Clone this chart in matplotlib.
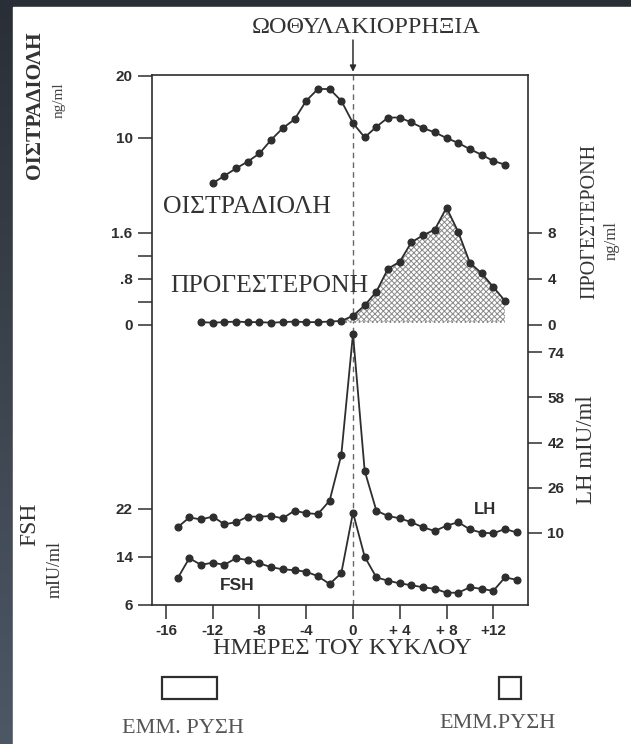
import matplotlib.pyplot as plt
import matplotlib.patches as mpatches
import matplotlib.transforms as mtransforms
from matplotlib.colors import LinearSegmentedColormap
import numpy as np

plt.rcParams['hatch.linewidth'] = 0.7
SANS = 'Liberation Sans'
SERIF = 'Liberation Serif'
INK = '#2e2e2e'
TICK_FS = 11

# --- data (day of cycle, 0 = ovulation) ---
days_e2 = list(range(-12, 14))
estradiol = [2.7, 3.9, 5.1, 6.2, 7.5, 9.7, 11.6, 13.0, 16.0, 17.9, 17.9, 16.0, 12.4,
             10.1, 11.8, 13.3, 13.3, 12.5, 11.6, 10.9, 10.0, 9.2, 8.2, 7.3, 6.3, 5.7]

days_p4 = list(range(-13, 14))
progesterone = [0.25, 0.2, 0.25, 0.3, 0.25, 0.25, 0.2, 0.25, 0.3, 0.25, 0.25, 0.3, 0.35,
                0.8, 1.7, 2.9, 4.9, 5.5, 7.2, 7.8, 8.3, 10.2, 8.1, 5.4, 4.5, 3.3, 2.1]

days_gn = list(range(-15, 15))
lh = [12.0, 15.5, 14.8, 15.8, 13.1, 13.8, 15.8, 15.8, 16.0, 15.2, 17.9, 17.0, 16.7, 21.4,
      37.6, 80.4, 32.0, 17.9, 16.0, 15.2, 13.8, 12.0, 10.7, 12.6, 13.8, 11.3, 10.1, 9.9, 11.4, 10.2]
fsh = [10.45, 13.8, 12.7, 13.05, 12.7, 13.8, 13.5, 12.95, 12.3, 11.95, 11.8, 11.55, 10.8, 9.5,
       11.3, 21.4, 14.05, 10.6, 10.05, 9.6, 9.3, 8.95, 8.7, 8.05, 8.05, 8.95, 8.7, 8.35, 10.6, 10.2]

x_ticks = [-16, -12, -8, -4, 0, 4, 8, 12]
x_ticklabels = ['-16', '-12', '-8', '-4', '0', '+ 4', '+ 8', '+12']
menses = [(-16.3, -11.6), (12.5, 14.4)]

fig = plt.figure(figsize=(6.31, 7.44), dpi=100)

# scanned page on dark background
bg = fig.add_axes([0, 0, 1, 1], zorder=-10)
grad = np.linspace(0, 1, 256).reshape(-1, 1)
bg.imshow(grad, aspect='auto', extent=[0, 1, 0, 1],
          cmap=LinearSegmentedColormap.from_list('bg', ['#2a2f37', '#4d5865']))
bg.add_patch(mpatches.Rectangle((13 / 631, 0), 1, 737 / 744, color='white'))
bg.set_xlim(0, 1)
bg.set_ylim(0, 1)
bg.axis('off')

rect = [152 / 631, 139 / 744, 376 / 631, 530 / 744]
xlim = (-17.19, 14.97)

ax = fig.add_axes(rect)            # frame + FSH
ax_e = fig.add_axes(rect, frameon=False)   # estradiol
ax_p = fig.add_axes(rect, frameon=False)   # progesterone
ax_l = fig.add_axes(rect, frameon=False)   # LH
ax.patch.set_alpha(0)
for a in (ax, ax_e, ax_p, ax_l):
    a.set_xlim(*xlim)
    a.tick_params(axis='y', direction='out', length=10, width=1.1, color=INK,
                  labelsize=TICK_FS, pad=4, labelcolor=INK)
for a in (ax_e, ax_p, ax_l):
    a.xaxis.set_visible(False)

ax.set_ylim(6, 94.33)
ax_e.set_ylim(-65.32, 20.16)
ax_p.set_ylim(-24.35, 21.74)
ax_l.set_ylim(-15.46, 171.95)

for s in ax.spines.values():
    s.set_linewidth(1.2)
    s.set_color(INK)

line_kw = dict(color=INK, lw=1.3, marker='o', ms=4.8, mfc=INK, mec=INK)

ax.axvline(0, ls=(0, (4, 3)), lw=1.0, color='#666666', zorder=0)

ax_e.plot(days_e2, estradiol, **line_kw)
ax_p.fill_between(days_p4[12:], progesterone[12:], 0.3, facecolor='white',
                  hatch='xxxxxx', edgecolor='#8a8a8a', linewidth=0)
ax_p.plot([days_p4[12], days_p4[-1]], [0.3, 0.3], ls=':', color='#777777', lw=1.2)
ax_p.plot(days_p4, progesterone, **line_kw)
ax_l.plot(days_gn, lh, **line_kw)
ax.plot(days_gn, fsh, **line_kw)

# ticks
ax.set_xticks(x_ticks)
ax.set_xticklabels(x_ticklabels)
ax.tick_params(axis='x', direction='out', length=10, width=1.1, color=INK,
               labelsize=TICK_FS, pad=4, labelcolor=INK)
ax.set_yticks([6, 14, 22])
ax.set_yticklabels(['6', '14', '22'])
ax_e.set_yticks([10, 20])
ax_p.yaxis.tick_right()
ax_p.set_yticks([0, 4, 8])
ax_l.yaxis.tick_right()
ax_l.set_yticks([10, 26, 42, 58, 74])
for a in (ax_p, ax_l):
    a.tick_params(axis='y', direction='out', length=10, width=1.1, color=INK,
                  labelsize=TICK_FS, pad=4)
sec = ax_p.secondary_yaxis('left', functions=(lambda v: v / 5, lambda v: v * 5))
sec.set_yticks([0, 0.4, 0.8, 1.2, 1.6])
sec.set_yticklabels(['0', '', '.8', '', '1.6'])
sec.spines['left'].set_visible(False)
sec.tick_params(axis='y', direction='out', length=10, width=1.1, color=INK,
                labelsize=TICK_FS, pad=4, labelcolor=INK)

for a in (ax, ax_e, ax_p, ax_l, sec):
    for lab in a.get_yticklabels() + a.get_xticklabels():
        lab.set_fontfamily(SANS)
        lab.set_fontweight('bold')

# in-plot labels
ax.text(0.029, 0.751, 'ΟΙΣΤΡΑΔΙΟΛΗ', transform=ax.transAxes, family=SERIF,
        fontsize=18.5, color='#333333', va='center', ha='left')
ax.text(0.048, 0.602, 'ΠΡΟΓΕΣΤΕΡΟΝΗ', transform=ax.transAxes, family=SERIF,
        fontsize=18.5, color='#333333', va='center', ha='left')
ax.text(0.886, 0.181, 'LH', transform=ax.transAxes, family=SANS, weight='bold',
        fontsize=12, color=INK, va='center', ha='center')
ax.text(0.226, 0.036, 'FSH', transform=ax.transAxes, family=SANS, weight='bold',
        fontsize=12.5, color=INK, va='center', ha='center')

# ovulation arrow
xa = ax.get_xaxis_transform()
ax.annotate('', xy=(0, 1.006), xycoords=xa, xytext=(0, 1.066), textcoords=xa,
            arrowprops=dict(arrowstyle='-|>', color=INK, lw=1.1, mutation_scale=9,
                            shrinkA=0, shrinkB=0))
fig.text(0.581, 0.963, 'ΩΟΘΥΛΑΚΙΟΡΡΗΞΙΑ', family=SERIF, fontsize=17.5,
         color='#333333', ha='center', va='center')

# axis titles
fig.text(0.0555, 0.859, 'ΟΙΣΤΡΑΔΙΟΛΗ', family=SERIF, weight='bold', fontsize=15.5,
         rotation=90, ha='center', va='center', color='#333333')
fig.text(0.093, 0.866, 'ng/ml', family=SERIF, fontsize=11, rotation=90,
         ha='center', va='center', color='#444444')
fig.text(0.048, 0.295, 'FSH', family=SERIF, fontsize=17, rotation=90,
         ha='center', va='center', color='#333333')
fig.text(0.088, 0.235, 'mIU/ml', family=SERIF, fontsize=13, rotation=90,
         ha='center', va='center', color='#333333')
fig.text(0.935, 0.702, 'ΠΡΟΓΕΣΤΕΡΟΝΗ', family=SERIF, fontsize=14.5, rotation=90,
         ha='center', va='center', color='#333333')
fig.text(0.970, 0.677, 'ng/ml', family=SERIF, fontsize=12, rotation=90,
         ha='center', va='center', color='#444444')
fig.text(0.929, 0.395, 'LH mIU/ml', family=SERIF, fontsize=16.5, rotation=90,
         ha='center', va='center', color='#333333')

fig.text(0.542, 0.129, 'ΗΜΕΡΕΣ ΤΟΥ ΚΥΚΛΟΥ', family=SERIF, fontsize=17.5,
         ha='center', va='center', color='#333333')

# menstruation boxes
tb = mtransforms.blended_transform_factory(ax.transData, fig.transFigure)
for start, end in menses:
    ax.add_patch(mpatches.Rectangle((start, 0.0605), end - start, 0.0296, transform=tb,
                                    fill=False, lw=1.6, edgecolor=INK, clip_on=False))
fig.text(0.29, 0.0215, 'ΕΜΜ. ΡΥΣΗ', family=SERIF, fontsize=16,
         ha='center', va='center', color='#555555')
fig.text(0.788, 0.028, 'ΕΜΜ.ΡΥΣΗ', family=SERIF, fontsize=16,
         ha='center', va='center', color='#555555')

fig.savefig('out.png', dpi=100)
